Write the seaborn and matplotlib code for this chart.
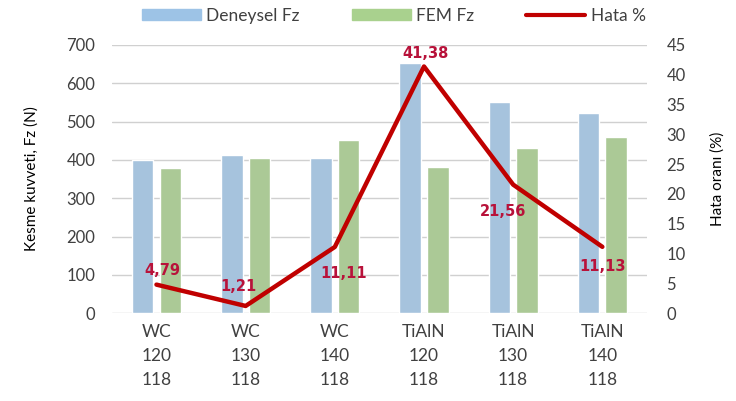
# Kesme kuvveti (Fz) – deneysel / FEM karşılaştırması ve hata oranı

import seaborn as sns
import pandas as pd
import matplotlib.pyplot as plt
from matplotlib.lines import Line2D
from matplotlib.patches import Patch
from matplotlib.ticker import MultipleLocator
import numpy as np

sns.set_theme(style="white")
plt.rcParams['font.family'] = ['Lato', 'DejaVu Sans']

# Data.
categories = ["WC\n120\n118", "WC\n130\n118", "WC\n140\n118",
              "TiAlN\n120\n118", "TiAlN\n130\n118", "TiAlN\n140\n118"]
deneysel_fz = [400, 412, 405, 652, 551, 522]
fem_fz = [380, 406, 452, 381, 431, 460]
hata = [4.79, 1.21, 11.11, 41.38, 21.56, 11.13]
hata_labels = ["4,79", "1,21", "11,11", "41,38", "21,56", "11,13"]

blue = "#9DC3E6"
green = "#A9D18E"
red = "#C00000"
text_grey = "#404040"

df = pd.DataFrame({"cat": categories, "Deneysel Fz": deneysel_fz, "FEM Fz": fem_fz})
dfm = df.melt(id_vars="cat", var_name="seri", value_name="fz")

fig, ax = plt.subplots(figsize=(7.36, 4.01), dpi=100)
fig.subplots_adjust(left=0.152, right=0.879, top=0.888, bottom=0.219)

sns.barplot(data=dfm, x="cat", y="fz", hue="seri", palette=[blue, green],
            width=0.62, gap=0.22, ax=ax, legend=False)
ax.set_ylim(0, 700)
ax.yaxis.set_major_locator(MultipleLocator(100))
ax.grid(axis="y", color="#D0D0D0", linewidth=1)
ax.set_axisbelow(True)
ax.set_xlabel("")
ax.set_ylabel("Kesme kuvveti, Fz (N)", fontsize=11, color="black", labelpad=20)
ax.tick_params(axis="y", labelsize=12, colors=text_grey, length=0, pad=12)
ax.tick_params(axis="x", labelsize=12.5, colors=text_grey, length=0, pad=8)
for lab in ax.get_xticklabels():
    lab.set_linespacing(1.6)
sns.despine(ax=ax, left=True, bottom=True)

ax2 = ax.twinx()
xpos = np.arange(len(hata))
sns.lineplot(x=xpos, y=hata, color=red, linewidth=3.2, ax=ax2)
ax2.set_ylim(0, 45)
ax2.yaxis.set_major_locator(MultipleLocator(5))
ax2.set_ylabel("Hata oranı (%)", fontsize=11, color="black", labelpad=18)
ax2.tick_params(axis="y", labelsize=12, colors=text_grey, length=0, pad=14)
sns.despine(ax=ax2, left=True, bottom=True, right=True)
ax.set_xlim(-0.5, len(categories) - 0.5)

# label offsets (points) for the error values
offsets = [(4, 10), (-5, 14), (6, -19), (1, 9), (-7, -19), (0, -14)]
for x, y, s, off in zip(xpos, hata, hata_labels, offsets):
    ax2.annotate(s, (x, y), xytext=off, textcoords="offset points",
                 ha="center", va="center", fontsize=10.5, fontweight="bold",
                 family="DejaVu Sans", color="#B8123A")

handles = [Patch(color=blue, label="Deneysel Fz"),
           Patch(color=green, label="FEM Fz"),
           Line2D([0], [0], color=red, linewidth=3, label="Hata %")]
fig.legend(handles=handles, loc="upper center", bbox_to_anchor=(0.535, 1.02),
           ncol=3, frameon=False, fontsize=12.5, handlelength=3.4,
           handleheight=0.6, columnspacing=3.0, handletextpad=0.3,
           labelcolor=text_grey)

plt.savefig("out.png", dpi=100)
